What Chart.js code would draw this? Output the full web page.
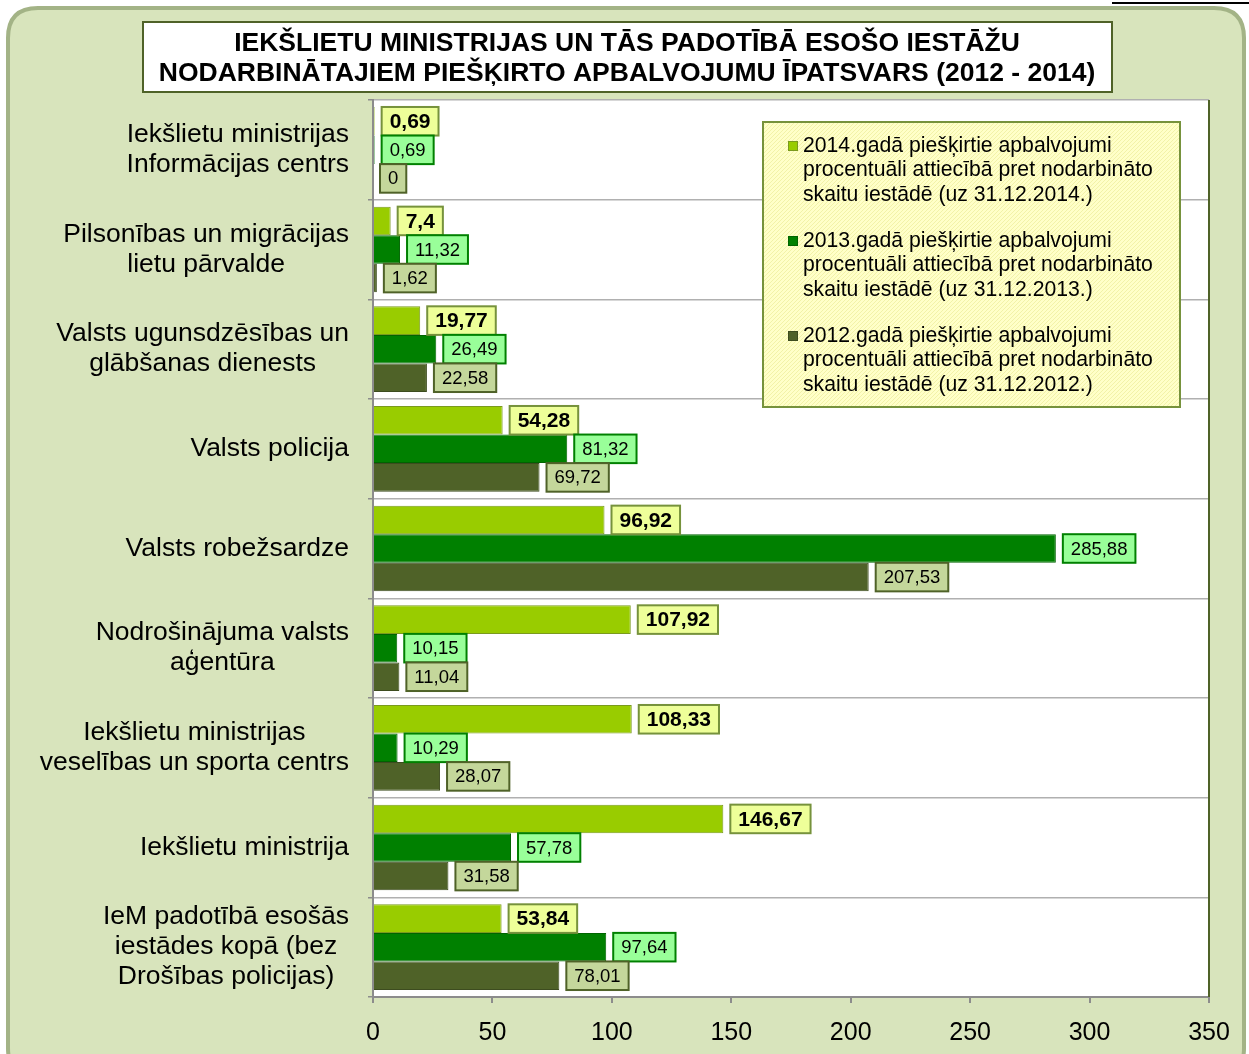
<!DOCTYPE html>
<html>
<head>
<meta charset="utf-8">
<script src="https://cdn.jsdelivr.net/npm/chart.js@4.4.1/dist/chart.umd.min.js"></script>
<style>
  html, body { margin: 0; padding: 0; background: #fff; }
  canvas { display: block; }
</style>
</head>
<body>
<canvas id="awardsChart" width="1249" height="1054"></canvas>
<script>
// dati no attēla
const categories = [
    ['Iekšlietu ministrijas', 'Informācijas centrs'],
    ['Pilsonības un migrācijas', 'lietu pārvalde'],
    ['Valsts ugunsdzēsības un', 'glābšanas dienests'],
    'Valsts policija',
    'Valsts robežsardze',
    ['Nodrošinājuma valsts', 'aģentūra'],
    ['Iekšlietu ministrijas', 'veselības un sporta centrs'],
    'Iekšlietu ministrija',
    ['IeM padotībā esošās', 'iestādes kopā (bez', 'Drošības policijas)']
];
const values2014 = [0.69, 7.4, 19.77, 54.28, 96.92, 107.92, 108.33, 146.67, 53.84];
const values2013 = [0.69, 11.32, 26.49, 81.32, 285.88, 10.15, 10.29, 57.78, 97.64];
const values2012 = [0, 1.62, 22.58, 69.72, 207.53, 11.04, 28.07, 31.58, 78.01];
const seriesNames = [
    ['2014.gadā piešķirtie apbalvojumi', 'procentuāli attiecībā pret nodarbināto', 'skaitu iestādē (uz 31.12.2014.)'],
    ['2013.gadā piešķirtie apbalvojumi', 'procentuāli attiecībā pret nodarbināto', 'skaitu iestādē (uz 31.12.2013.)'],
    ['2012.gadā piešķirtie apbalvojumi', 'procentuāli attiecībā pret nodarbināto', 'skaitu iestādē (uz 31.12.2012.)']
];
const xTicks = [0, 50, 100, 150, 200, 250, 300, 350];
const titleLines = [
    'IEKŠLIETU MINISTRIJAS UN TĀS PADOTĪBĀ ESOŠO IESTĀŽU',
    'NODARBINĀTAJIEM PIEŠĶIRTO APBALVOJUMU ĪPATSVARS (2012 - 2014)'
];

const barColors = ['#99cc00', '#008000', '#4f6228'];
const barBorders = ['#7a9a1e', '#006400', '#3d4c1f'];
// datu etiķešu stili
const labelStyles = [
    { fill: '#eeff99', stroke: '#76923c', font: 'bold 21px "Liberation Sans", Arial, sans-serif' },
    { fill: '#99ff99', stroke: '#008000', font: '18.5px "Liberation Sans", Arial, sans-serif' },
    { fill: '#c4d79b', stroke: '#4f6228', font: '18.5px "Liberation Sans", Arial, sans-serif' }
];

function roundRect(ctx, x, y, w, h, r) {
    ctx.beginPath();
    ctx.moveTo(x + r, y);
    ctx.lineTo(x + w - r, y);
    ctx.quadraticCurveTo(x + w, y, x + w, y + r);
    ctx.lineTo(x + w, y + h - r);
    ctx.quadraticCurveTo(x + w, y + h, x + w - r, y + h);
    ctx.lineTo(x + r, y + h);
    ctx.quadraticCurveTo(x, y + h, x, y + h - r);
    ctx.lineTo(x, y + r);
    ctx.quadraticCurveTo(x, y, x + r, y);
    ctx.closePath();
}

function hatchPattern(ctx) {
    const c = document.createElement('canvas');
    c.width = 4; c.height = 4;
    const p = c.getContext('2d');
    p.fillStyle = '#ffffc8';
    p.fillRect(0, 0, 4, 4);
    p.fillStyle = '#f2f2a8';
    p.fillRect(0, 0, 1, 1);
    p.fillRect(2, 2, 1, 1);
    p.fillRect(1, 3, 1, 1);
    p.fillRect(3, 1, 1, 1);
    return ctx.createPattern(c, 'repeat');
}

const framePlugin = {
    id: 'frame',
    beforeDraw(chart) {
        const ctx = chart.ctx;
        const a = chart.chartArea;
        ctx.save();
        // lapas līnija augšā labajā pusē
        ctx.strokeStyle = '#000';
        ctx.lineWidth = 2;
        ctx.beginPath();
        ctx.moveTo(1112, 3);
        ctx.lineTo(1249, 3);
        ctx.stroke();
        // ārējais rāmis
        roundRect(ctx, 8, 8, 1236, 1070, 30);
        ctx.fillStyle = '#d8e4bc';
        ctx.fill();
        ctx.strokeStyle = '#a3b386';
        ctx.lineWidth = 4;
        ctx.stroke();
        // virsraksta kaste
        ctx.fillStyle = '#fff';
        ctx.fillRect(143, 22, 969, 70);
        ctx.strokeStyle = '#4f6228';
        ctx.lineWidth = 2;
        ctx.strokeRect(143, 22, 969, 70);
        ctx.fillStyle = '#000';
        ctx.font = 'bold 26.5px "Liberation Sans", Arial, sans-serif';
        ctx.textAlign = 'center';
        ctx.textBaseline = 'middle';
        titleLines.forEach((t, i) => ctx.fillText(t, 627, 44 + i * 30));
        // zīmēšanas laukums
        ctx.fillStyle = '#fff';
        ctx.fillRect(a.left, a.top, a.right - a.left, a.bottom - a.top);
        ctx.restore();
    },
    afterDatasetsDraw(chart) {
        const ctx = chart.ctx;
        const a = chart.chartArea;
        ctx.save();
        // labā mala
        ctx.strokeStyle = '#4f6228';
        ctx.lineWidth = 2;
        ctx.beginPath();
        ctx.moveTo(a.right, a.top);
        ctx.lineTo(a.right, a.bottom);
        ctx.stroke();

        // kategoriju nosaukumi: bloks pie labās malas, rindas centrētas
        const ys = chart.scales.y;
        ctx.font = '26.5px "Liberation Sans", Arial, sans-serif';
        ctx.fillStyle = '#000';
        ctx.textAlign = 'center';
        ctx.textBaseline = 'middle';
        chart.data.labels.forEach((lab, i) => {
            const lines = Array.isArray(lab) ? lab : [lab];
            const maxW = Math.max(...lines.map(t => ctx.measureText(t).width));
            const cx = 349 - maxW / 2;
            const cy = ys.getPixelForTick(i);
            lines.forEach((t, k) => ctx.fillText(t, cx, cy + (k - (lines.length - 1) / 2) * 30));
        });

        // datu etiķetes
        chart.data.datasets.forEach((ds, i) => {
            const meta = chart.getDatasetMeta(i);
            const st = labelStyles[i];
            ctx.font = st.font;
            meta.data.forEach((bar, j) => {
                const p = bar.getProps(['x', 'y', 'height'], true);
                const txt = String(ds.data[j]).replace('.', ',');
                const w = ctx.measureText(txt).width + 16;
                const h = p.height;
                const x = p.x + 7;
                const y = p.y - h / 2;
                ctx.fillStyle = st.fill;
                ctx.fillRect(x, y, w, h);
                ctx.strokeStyle = st.stroke;
                ctx.lineWidth = 2;
                ctx.strokeRect(x, y, w, h);
                ctx.fillStyle = '#000';
                ctx.fillText(txt, x + w / 2, p.y + 1);
            });
        });
        ctx.restore();
    },
    afterDraw(chart) {
        // leģenda
        const ctx = chart.ctx;
        ctx.save();
        const lx = 763, ly = 122, lw = 417, lh = 285;
        ctx.fillStyle = hatchPattern(ctx);
        ctx.fillRect(lx, ly, lw, lh);
        ctx.strokeStyle = '#76923c';
        ctx.lineWidth = 2;
        ctx.strokeRect(lx, ly, lw, lh);
        ctx.font = '21.2px "Liberation Sans", Arial, sans-serif';
        ctx.textAlign = 'left';
        ctx.textBaseline = 'middle';
        seriesNames.forEach((lines, i) => {
            const top = 146 + i * 95;
            ctx.fillStyle = barColors[i];
            ctx.fillRect(788, top - 5, 10, 10);
            ctx.strokeStyle = barBorders[i];
            ctx.lineWidth = 1;
            ctx.strokeRect(788.5, top - 4.5, 9, 9);
            ctx.fillStyle = '#000';
            lines.forEach((t, k) => ctx.fillText(t, 803, top + k * 24.5));
        });
        ctx.restore();
    }
};

const ctx = document.getElementById('awardsChart').getContext('2d');
const awardsChart = new Chart(ctx, {
    type: 'bar',
    data: {
        labels: categories,
        datasets: [values2014, values2013, values2012].map((vals, i) => ({
            label: seriesNames[i].join(' '),
            data: vals,
            backgroundColor: barColors[i],
            borderColor: barBorders[i],
            borderWidth: 1,
            categoryPercentage: 0.86,
            barPercentage: 1
        }))
    },
    options: {
        indexAxis: 'y',
        responsive: false,
        animation: false,
        devicePixelRatio: 1,
        layout: { padding: { top: 100, right: 40, left: 0, bottom: 0 } },
        plugins: {
            legend: { display: false },
            title: { display: false },
            tooltip: { enabled: false }
        },
        scales: {
            x: {
                min: 0,
                max: 350,
                afterBuildTicks(scale) {
                    scale.ticks = xTicks.map(v => ({ value: v }));
                },
                afterFit(scale) { scale.height = 57; },
                ticks: {
                    color: '#000',
                    padding: 15,
                    font: { family: '"Liberation Sans Narrow", "Liberation Sans", Arial', size: 25 }
                },
                grid: {
                    drawOnChartArea: false,
                    drawTicks: true,
                    tickLength: 6,
                    color: '#8c8c8c',
                    lineWidth: 2
                },
                border: { color: '#8c8c8c', width: 2 }
            },
            y: {
                afterFit(scale) { scale.width = 373; },
                ticks: { display: false },
                grid: {
                    offset: true,
                    color: '#b0b0b0',
                    lineWidth: 1.5,
                    tickLength: 5,
                    tickColor: '#8c8c8c'
                },
                border: { color: '#8c8c8c', width: 2 }
            }
        }
    },
    plugins: [framePlugin]
});
</script>
</body>
</html>
